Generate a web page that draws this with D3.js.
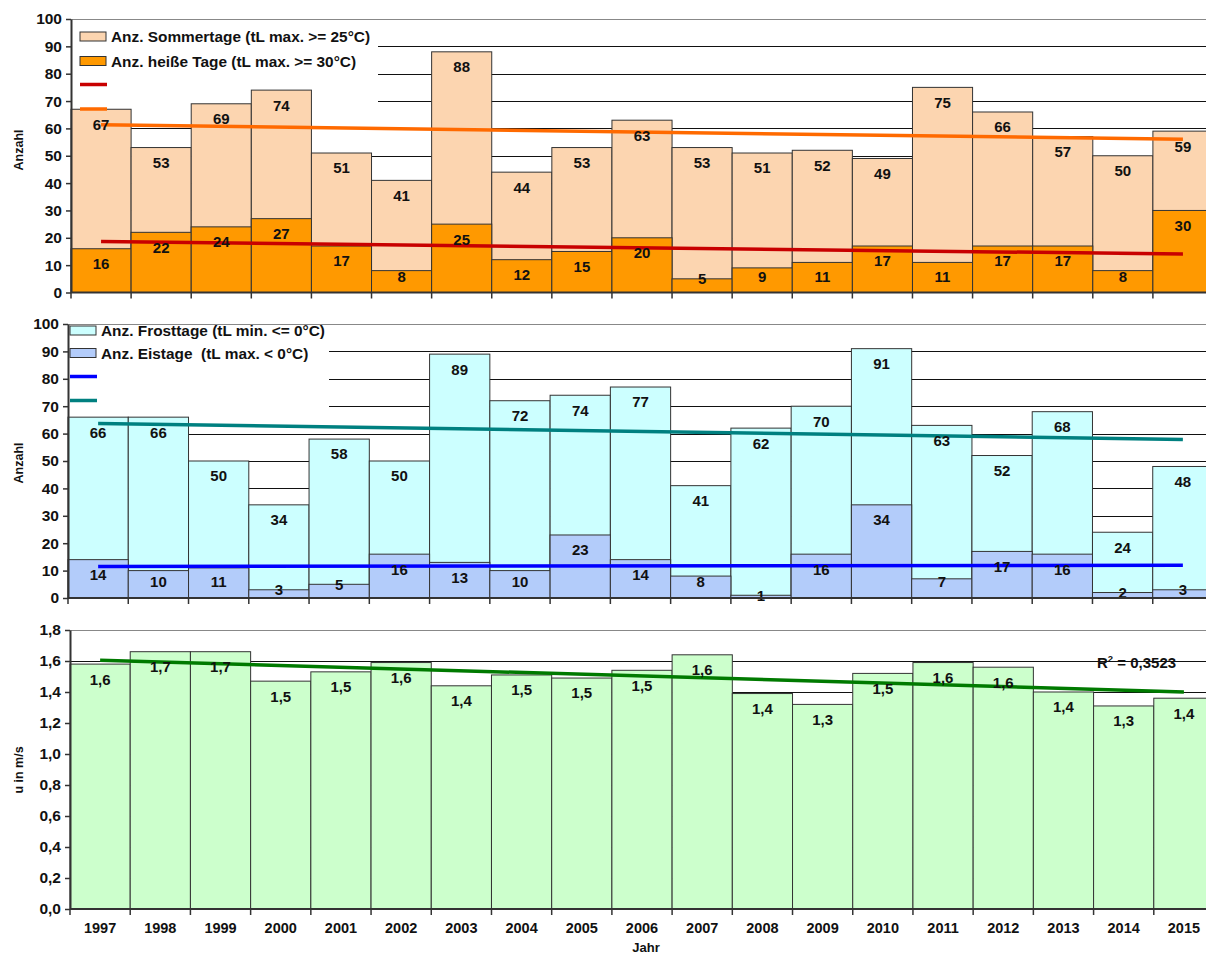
<!DOCTYPE html>
<html>
<head>
<meta charset="utf-8">
<script src="https://cdn.jsdelivr.net/npm/d3@7"></script>
<style>
  body { margin: 0; background: #fff; }
  text { font-family: "Liberation Sans", Arial, sans-serif; font-weight: bold; fill: #111; }
</style>
</head>
<body>
<script>
const years = ["1997","1998","1999","2000","2001","2002","2003","2004","2005","2006",
               "2007","2008","2009","2010","2011","2012","2013","2014","2015"];

// Anz. Sommertage / heiße Tage
const sommertage = [67,53,69,74,51,41,88,44,53,63,53,51,52,49,75,66,57,50,59];
const heisseTage = [16,22,24,27,17,8,25,12,15,20,5,9,11,17,11,17,17,8,30];

// Anz. Frosttage / Eistage
const frosttage = [66,66,50,34,58,50,89,72,74,77,41,62,70,91,63,52,68,24,48];
const eistage   = [14,10,11,3,5,16,13,10,23,14,8,1,16,34,7,17,16,2,3];

// mittlere Windgeschwindigkeit u in m/s
const wind = [1.58,1.66,1.66,1.47,1.53,1.59,1.44,1.51,1.49,1.54,1.64,1.39,1.32,1.52,1.59,1.56,1.40,1.31,1.36];

const svg = d3.select("body").append("svg")
    .attr("width", 1206)
    .attr("height", 960);

const fmtInt = d => d3.format("d")(d);
const fmtComma = d => d.toFixed(1).replace(".", ",");

function trend(values) {
    // simple least squares over the year index
    const n = values.length;
    const mx = d3.mean(values, (d, i) => i);
    const my = d3.mean(values);
    let sxy = 0, sxx = 0;
    values.forEach((v, i) => { sxy += (i - mx) * (v - my); sxx += (i - mx) * (i - mx); });
    const b = sxy / sxx;
    const a = my - b * mx;
    return [a, a + b * (n - 1)];
}

function drawPanel(cfg) {
    const x = d3.scaleBand().domain(years).range([cfg.x0, cfg.x1]).padding(0);
    const y = d3.scaleLinear().domain(cfg.domain).range([cfg.yBase, cfg.yTop]);
    const g = svg.append("g");
    const ticks = y.ticks(cfg.nTicks);

    // gridlines
    g.append("g").selectAll("line")
        .data(ticks.filter(t => t > 0))
        .join("line")
        .attr("x1", cfg.x0)
        .attr("x2", cfg.x1)
        .attr("y1", d => Math.round(y(d)) + 0.5)
        .attr("y2", d => Math.round(y(d)) + 0.5)
        .attr("stroke", (d, i, a) => i === a.length - 1 ? "#888" : "#111")
        .attr("stroke-width", 1);

    // legend background hides the gridlines
    if (cfg.legendBox) {
        g.append("rect")
            .attr("x", cfg.x0 + 1)
            .attr("y", cfg.legendBox[1])
            .attr("width", cfg.legendBox[0] - cfg.x0)
            .attr("height", cfg.legendBox[2] - cfg.legendBox[1])
            .attr("fill", "#fff");
    }

    // bars, back series first (overlapping, not stacked)
    cfg.series.forEach(s => {
        g.append("g").selectAll("rect")
            .data(s.values)
            .join("rect")
            .attr("x", (d, i) => x(years[i]))
            .attr("y", d => y(d))
            .attr("width", x.bandwidth())
            .attr("height", d => cfg.yBase - y(d))
            .attr("fill", s.color)
            .attr("stroke", "#333")
            .attr("stroke-width", 1);
    });

    // trend lines
    cfg.series.forEach(s => {
        if (!s.trendColor) return;
        const t = trend(s.values);
        g.append("line")
            .attr("x1", x(years[0]) + x.bandwidth() / 2)
            .attr("x2", x(years[years.length - 1]) + x.bandwidth() / 2)
            .attr("y1", y(t[0]))
            .attr("y2", y(t[1]))
            .attr("stroke", s.trendColor)
            .attr("stroke-width", 3.5);
    });

    // data labels
    cfg.series.forEach(s => {
        g.append("g").selectAll("text")
            .data(s.values)
            .join("text")
            .attr("x", (d, i) => x(years[i]) + x.bandwidth() / 2)
            .attr("y", d => Math.min(y(d) + 15, Math.max(y(d), cfg.yBase - 16)))
            .attr("dy", "0.36em")
            .attr("text-anchor", "middle")
            .attr("font-size", 15)
            .text(cfg.fmt);
    });

    // y axis
    const ax = g.append("g")
        .attr("transform", `translate(${cfg.x0},0)`)
        .call(d3.axisLeft(y).ticks(cfg.nTicks).tickSize(5).tickSizeOuter(0).tickPadding(4).tickFormat(cfg.tickFmt));
    ax.select(".domain").attr("stroke", "#333").attr("stroke-width", 2);
    ax.selectAll(".tick line").attr("stroke", "#333").attr("stroke-width", 1.5);
    ax.selectAll(".tick text")
        .attr("font-size", 15.5)
        .attr("font-family", "Liberation Sans, Arial, sans-serif")
        .attr("fill", "#111");

    // x axis line and ticks at band edges
    g.append("line")
        .attr("x1", cfg.x0).attr("x2", cfg.x1)
        .attr("y1", cfg.yBase).attr("y2", cfg.yBase)
        .attr("stroke", "#333").attr("stroke-width", 2);
    g.append("g").selectAll("line")
        .data(years)
        .join("line")
        .attr("x1", d => x(d)).attr("x2", d => x(d))
        .attr("y1", cfg.yBase).attr("y2", cfg.yBase + 6)
        .attr("stroke", "#333").attr("stroke-width", 1.5);

    if (cfg.showYears) {
        g.append("g").selectAll("text")
            .data(years)
            .join("text")
            .attr("x", d => x(d) + x.bandwidth() / 2)
            .attr("y", cfg.yBase + 19)
            .attr("dy", "0.36em")
            .attr("text-anchor", "middle")
            .attr("font-size", 14.5)
            .text(d => d);
    }

    // y title
    g.append("text")
        .attr("transform", `translate(18,${cfg.titleY}) rotate(-90)`)
        .attr("text-anchor", "middle")
        .attr("dy", "0.36em")
        .attr("font-size", 12.5)
        .text(cfg.title);

    // legend
    if (cfg.legend) {
        cfg.legend.forEach(l => {
            if (l.type === "rect") {
                g.append("rect")
                    .attr("x", cfg.legendX).attr("y", l.y - 4.5)
                    .attr("width", 26).attr("height", 9)
                    .attr("fill", l.color).attr("stroke", "#333").attr("stroke-width", 1);
                g.append("text")
                    .attr("x", cfg.legendX + 31).attr("y", l.y)
                    .attr("dy", "0.36em")
                    .attr("font-size", 15.4)
                    .style("white-space", "pre")
                    .text(l.label);
            } else {
                g.append("line")
                    .attr("x1", cfg.legendX).attr("x2", cfg.legendX + 27)
                    .attr("y1", l.y).attr("y2", l.y)
                    .attr("stroke", l.color).attr("stroke-width", 3.5);
            }
        });
    }
    return {x, y, g};
}

drawPanel({
    x0: 71, x1: 1213, yTop: 19, yBase: 292.5, domain: [0, 100], nTicks: 10,
    fmt: fmtInt, tickFmt: fmtInt, title: "Anzahl", titleY: 150,
    legendBox: [377, 20, 104], legendX: 80,
    series: [
        {values: sommertage, color: "#FCD5B0", trendColor: "#FF6A00"},
        {values: heisseTage, color: "#FF9900", trendColor: "#C80000"}
    ],
    legend: [
        {type: "rect", y: 36.5, color: "#FCD5B0", label: "Anz. Sommertage (tL max. >= 25°C)"},
        {type: "rect", y: 61, color: "#FF9900", label: "Anz. heiße Tage (tL max. >= 30°C)"},
        {type: "line", y: 84.5, color: "#C80000"},
        {type: "line", y: 109, color: "#FF6A00"}
    ]
});

drawPanel({
    x0: 68, x1: 1213, yTop: 324, yBase: 598, domain: [0, 100], nTicks: 10,
    fmt: fmtInt, tickFmt: fmtInt, title: "Anzahl", titleY: 463,
    legendBox: [328, 325, 407], legendX: 70,
    series: [
        {values: frosttage, color: "#CCFFFF", trendColor: "#008080"},
        {values: eistage, color: "#B3CCFA", trendColor: "#0000FF"}
    ],
    legend: [
        {type: "rect", y: 330.5, color: "#CCFFFF", label: "Anz. Frosttage (tL min. <= 0°C)"},
        {type: "rect", y: 353, color: "#B3CCFA", label: "Anz. Eistage  (tL max. < 0°C)"},
        {type: "line", y: 376.5, color: "#0000FF"},
        {type: "line", y: 400.5, color: "#008080"}
    ]
});

drawPanel({
    x0: 70, x1: 1214, yTop: 630, yBase: 909, domain: [0, 1.8], nTicks: 9,
    fmt: fmtComma, tickFmt: fmtComma, title: "u in m/s", titleY: 770, showYears: true,
    series: [
        {values: wind, color: "#CCFFCC", trendColor: "#007A00"}
    ]
});

// R² text of the wind trend
const r2 = svg.append("text")
    .attr("x", 1097).attr("y", 668)
    .attr("font-size", 15);
r2.append("tspan").text("R");
r2.append("tspan").attr("dy", -6).attr("font-size", 9.5).text("2");
r2.append("tspan").attr("dy", 6).text(" = 0,3523");

svg.append("text")
    .attr("x", 646).attr("y", 952)
    .attr("text-anchor", "middle")
    .attr("font-size", 13)
    .text("Jahr");
</script>
</body>
</html>
